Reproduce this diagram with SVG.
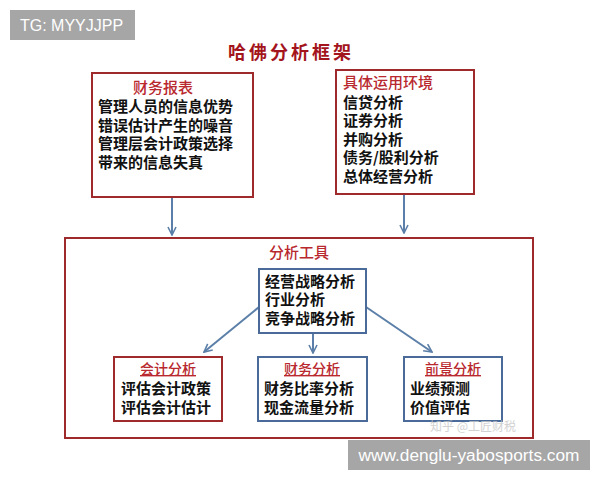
<svg xmlns="http://www.w3.org/2000/svg" width="600" height="480" viewBox="0 0 600 480">
<style>
.red{fill:none;stroke:#9e2a2b;stroke-width:2}
.blue{fill:#fff;stroke:#4a6a9a;stroke-width:2}
.t{font-family:"Noto Sans CJK SC","Noto Sans",sans-serif;font-size:15px;font-weight:bold;fill:#111}
.h{font-family:"Noto Sans CJK SC","Noto Sans",sans-serif;font-size:15px;font-weight:500;fill:#b8282e}
.hs{font-size:14px}
.con{stroke:#5b7fa8;stroke-width:2;fill:none;marker-end:url(#ah)}
.wm{font-family:"Liberation Sans",Arial,sans-serif;fill:#fff;font-size:16px}
</style>
<defs>
<marker id="ah" viewBox="0 0 10 10" refX="9" refY="5" markerWidth="5" markerHeight="5" orient="auto" markerUnits="strokeWidth">
<path d="M1,1 L9,5 L1,9" fill="none" stroke="#5b7fa8" stroke-width="1.6"/>
</marker>
</defs>
<rect width="600" height="480" fill="#fff"/>
<g id="tg">
<rect x="10" y="10" width="125" height="30" fill="#a6a6a6"/>
<text class="wm" x="20" y="31">TG: MYYJJPP</text>
</g>
<g id="title">
<text x="291" y="59" text-anchor="middle" font-family="'Noto Sans CJK SC',sans-serif" font-size="18" font-weight="bold" letter-spacing="3" fill="#a3141c">哈佛分析框架</text>
</g>
<g id="connectors">
<line class="con" x1="172" y1="197" x2="172" y2="235"/>
<line class="con" x1="404" y1="194" x2="404" y2="233"/>
<line class="con" x1="259" y1="307" x2="204" y2="352"/>
<line class="con" x1="313" y1="333" x2="313" y2="353"/>
<line class="con" x1="366" y1="307" x2="432" y2="352"/>
</g>
<g id="node-fs">
<rect class="red" x="92" y="73" width="161" height="124"/>
<text class="h" x="163" y="93" text-anchor="middle">财务报表</text>
<text class="t" x="98" y="112">管理人员的信息优势</text>
<text class="t" x="98" y="131">错误估计产生的噪音</text>
<text class="t" x="98" y="149">管理层会计政策选择</text>
<text class="t" x="98" y="168">带来的信息失真</text>
</g>
<g id="node-env">
<rect class="red" x="336" y="70" width="138" height="124"/>
<text class="h" x="343" y="88">具体运用环境</text>
<text class="t" x="343" y="108">信贷分析</text>
<text class="t" x="343" y="126">证券分析</text>
<text class="t" x="343" y="145">并购分析</text>
<text class="t" x="343" y="163">债务/股利分析</text>
<text class="t" x="343" y="182">总体经营分析</text>
</g>
<g id="node-tools">
<rect class="red" x="65" y="238" width="468" height="200"/>
<text class="h" x="299" y="258" text-anchor="middle" font-size="18">分析工具</text>
</g>
<g id="node-strategy">
<rect class="blue" x="259" y="269" width="107" height="64"/>
<text class="t" x="265" y="287">经营战略分析</text>
<text class="t" x="265" y="305">行业分析</text>
<text class="t" x="265" y="324">竞争战略分析</text>
</g>
<g id="node-acc">
<rect x="114" y="357" width="108" height="64" fill="#fff" stroke="#9e2a2b" stroke-width="2"/>
<text class="h hs" x="168" y="374" text-anchor="middle" text-decoration="underline">会计分析</text>
<text class="t" x="121" y="394">评估会计政策</text>
<text class="t" x="121" y="413">评估会计估计</text>
</g>
<g id="node-fin">
<rect class="blue" x="258" y="357" width="109" height="64"/>
<text class="h hs" x="312" y="374" text-anchor="middle" text-decoration="underline">财务分析</text>
<text class="t" x="264" y="394">财务比率分析</text>
<text class="t" x="264" y="413">现金流量分析</text>
</g>
<g id="node-pro">
<rect class="blue" x="404" y="357" width="98" height="64"/>
<text class="h hs" x="453" y="374" text-anchor="middle" text-decoration="underline">前景分析</text>
<text class="t" x="410" y="394">业绩预测</text>
<text class="t" x="410" y="413">价值评估</text>
</g>
<g id="watermark">
<text x="430" y="431" font-family="'Noto Sans CJK SC',sans-serif" font-size="12" fill="#c8c8c8" opacity="0.8">知乎 @工匠财税</text>
</g>
<g id="url">
<rect x="348" y="440" width="242" height="30" fill="#a6a6a6"/>
<text class="wm" x="469" y="461" text-anchor="middle" textLength="221" lengthAdjust="spacingAndGlyphs">www.denglu-yabosports.com</text>
</g>
</svg>
